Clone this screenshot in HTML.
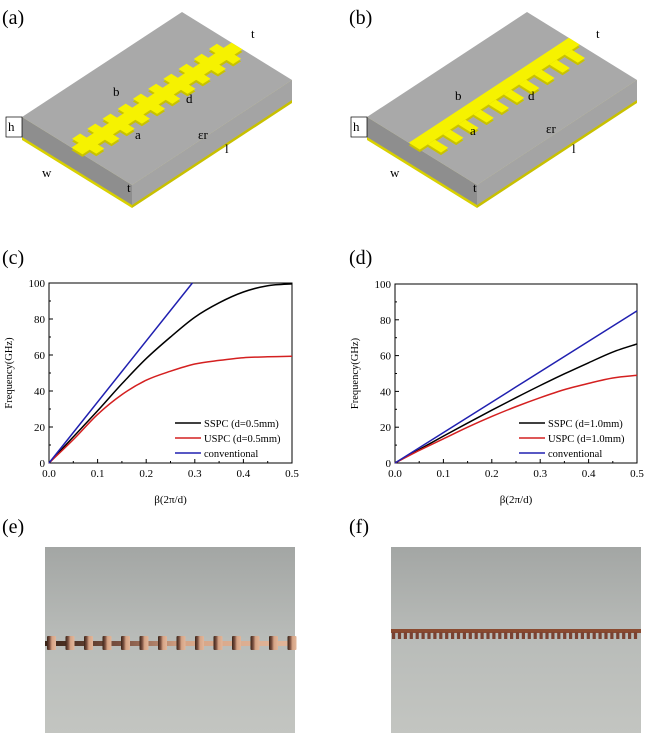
<!DOCTYPE html>
<html><head><meta charset="utf-8"><style>
html,body{margin:0;padding:0;background:#fff;width:658px;height:735px;overflow:hidden}
svg{display:block;font-family:"Liberation Serif",serif}
</style></head><body>
<svg id="fig" width="658" height="735" viewBox="0 0 658 735" xmlns="http://www.w3.org/2000/svg">
<defs>
<linearGradient id="ph" x1="0" y1="0" x2="0" y2="1"><stop offset="0" stop-color="#a3a6a4"/><stop offset="0.5" stop-color="#b9bcb9"/><stop offset="1" stop-color="#c3c5c1"/></linearGradient>
<linearGradient id="cu" x1="0" y1="0" x2="1" y2="0"><stop offset="0" stop-color="#3a2418"/><stop offset="0.3" stop-color="#7a5040"/><stop offset="0.55" stop-color="#d6a486"/><stop offset="1" stop-color="#e2b69a"/></linearGradient>
</defs>
<g font-size="20">
<text x="2" y="24">(a)</text>
<text x="349" y="24">(b)</text>
<text x="2" y="264">(c)</text>
<text x="349" y="264">(d)</text>
<text x="2" y="533">(e)</text>
<text x="349" y="533">(f)</text>
</g>
<g id="boxA"></g>
<g id="boxB"></g>
<g id="chartC"></g>
<g id="chartD"></g>
<g>
<rect x="45" y="547" width="250" height="186" fill="url(#ph)"/>
<g id="stripE"></g>
</g>
<g>
<rect x="391" y="547" width="250" height="186" fill="url(#ph)"/>
<rect x="391" y="629" width="250" height="4" fill="#8a4a30"/>
<g id="stripF"></g>
</g>
</svg>
<script>
// ---- chart data ----
const betaC = [0,0.05,0.1,0.15,0.2,0.25,0.3,0.35,0.4,0.45,0.5];
const sspcC = [0,14.5,29,44,58,70,81,89,95,98.5,99.5];
const uspcC = [0,13,27,38,46,51,55,57,58.5,59,59.3];
const convBetaC = [0,0.295];
const convC = [0,100];
const betaD = [0,0.05,0.1,0.15,0.2,0.25,0.3,0.35,0.4,0.45,0.5];
const sspcD = [0,7.5,15,22.3,29.5,36.5,43.3,49.8,56,62,66.5];
const uspcD = [0,7,13.5,20,26,31.5,36.5,41,44.5,47.5,49];
const convBetaD = [0,0.5];
const convD = [0,85];
const xTicks = ["0.0","0.1","0.2","0.3","0.4","0.5"];
const yTicks = ["0","20","40","60","80","100"];
const legendC = ["SSPC (d=0.5mm)","USPC (d=0.5mm)","conventional"];
const legendD = ["SSPC (d=1.0mm)","USPC (d=1.0mm)","conventional"];
const NS="http://www.w3.org/2000/svg";
function mk(tag,attrs,parent,txt){const e=document.createElementNS(NS,tag);for(const k in attrs)e.setAttribute(k,attrs[k]);if(txt!==undefined)e.textContent=txt;parent.appendChild(e);return e;}
function smooth(pts){let d="M"+pts[0][0]+","+pts[0][1];for(let i=0;i<pts.length-1;i++){const p0=pts[i-1]||pts[i],p1=pts[i],p2=pts[i+1],p3=pts[i+2]||p2;d+=" C"+(p1[0]+(p2[0]-p0[0])/6)+","+(p1[1]+(p2[1]-p0[1])/6)+" "+(p2[0]-(p3[0]-p1[0])/6)+","+(p2[1]-(p3[1]-p1[1])/6)+" "+p2[0]+","+p2[1];}return d;}
function chart(g,x0,x1,y0,y1,series,legend,legX){
  const sx=v=>x0+(x1-x0)*v/0.5, sy=v=>y1-(y1-y0)*v/100;
  let r=mk('rect',{x:x0,y:y0,width:x1-x0,height:y1-y0,fill:'none',stroke:'#000','stroke-width':1},g);
  
  
  xTicks.forEach((t,i)=>{const x=sx(parseFloat(t));mk('line',{x1:x,y1:y1,x2:x,y2:y1-4,stroke:'#000'},g);
    if(i<5)mk('line',{x1:sx(parseFloat(t)+0.05),y1:y1,x2:sx(parseFloat(t)+0.05),y2:y1-2,stroke:'#000'},g);
    const tx=mk('text',{x:x,y:y1+14,'font-size':11,'text-anchor':'middle'},g,t);
    
    });
  yTicks.forEach((t,i)=>{const y=sy(parseFloat(t));mk('line',{x1:x0,y1:y,x2:x0+4,y2:y,stroke:'#000'},g);
    if(i<5)mk('line',{x1:x0,y1:sy(parseFloat(t)+10),x2:x0+2,y2:sy(parseFloat(t)+10),stroke:'#000'},g);
    const tx=mk('text',{x:x0-4,y:y+4,'font-size':11,'text-anchor':'end'},g,t);
    
    });
  const yl=mk('text',{x:0,y:0,'font-size':10.5,'text-anchor':'middle',transform:`translate(${x0-37},${(y0+y1)/2}) rotate(-90)`},g,'Frequency(GHz)');
  
  
  const xl=mk('text',{x:(x0+x1)/2,y:y1+40,'font-size':11,'text-anchor':'middle'},g,'β(2π/d)');
  
  
  series.forEach((s,i)=>{const pts=s.b.map((b,j)=>[sx(b),sy(s.v[j])]);
    const p=mk('path',{d:smooth(pts),fill:'none',stroke:s.c,'stroke-width':1.5},g);
    
    
    const ly=y1-40+i*15;
    mk('line',{x1:legX,y1:ly,x2:legX+26,y2:ly,stroke:s.c,'stroke-width':1.5},g);
    const lt=mk('text',{x:legX+29,y:ly+4,'font-size':10.5},g,legend[i]);
    
    });
}
chart(document.getElementById('chartC'),49,292,283,463,[
 {b:betaC,v:sspcC,c:'#000',n:'sspc'},{b:betaC,v:uspcC,c:'#d42020',n:'uspc'},{b:convBetaC,v:convC,c:'#2020b0',n:'conventional'}],legendC,175);
chart(document.getElementById('chartD'),395,637,284,463,[
 {b:betaD,v:sspcD,c:'#000',n:'sspc'},{b:betaD,v:uspcD,c:'#d42020',n:'uspc'},{b:convBetaD,v:convD,c:'#2020b0',n:'conventional'}],legendD,519);

// ---- schematics ----
function box(g,ox,comb){
  const L=[22+ox,117],B=[182+ox,12],R=[292+ox,80],F=[132+ox,185],T=20;
  const P=p=>p.join(',');
  const dn=(p,d)=>[p[0],p[1]+d];
  mk('polygon',{points:[L,F,dn(F,T+3),dn(L,T+3)].map(P).join(' '),fill:'#d8d000'},g);
  mk('polygon',{points:[F,R,dn(R,T+3),dn(F,T+3)].map(P).join(' '),fill:'#c8c000'},g);
  mk('polygon',{points:[L,F,dn(F,T),dn(L,T)].map(P).join(' '),fill:'#8e8e8e'},g);
  mk('polygon',{points:[F,R,dn(R,T),dn(F,T)].map(P).join(' '),fill:'#a4a4a4'},g);
  mk('polygon',{points:[L,B,R,F].map(P).join(' '),fill:'#a9a9a9'},g);
  const U=[B[0]-L[0],B[1]-L[1]],V=[F[0]-L[0],F[1]-L[1]];
  const pt=(u,v)=>[L[0]+u*U[0]+v*V[0],L[1]+u*U[1]+v*V[1]];
  const poly=(u0,u1,v0,v1,c,dy)=>mk('polygon',{points:[pt(u0,v0),pt(u1,v0),pt(u1,v1),pt(u0,v1)].map(q=>q[0].toFixed(1)+','+(q[1]+(dy||0)).toFixed(1)).join(' '),fill:c},g);
  const shapes=[];
  if(!comb){
    shapes.push([0,1,0.45,0.55]);
    for(let i=0;i<10;i++){const u=0.045+i*0.095;shapes.push([u,u+0.05,0.39,0.61]);}
  } else {
    shapes.push([0,1,0.38,0.48]);
    for(let i=0;i<10;i++){const u=0.05+i*0.095;shapes.push([u,u+0.045,0.48,0.6]);}
  }
  shapes.forEach(s=>poly(s[0],s[1],s[2],s[3],'#c9c200',2.5));
  shapes.forEach(s=>poly(s[0],s[1],s[2],s[3],'#f6f200',0));
  const labs=comb?[['t',596,38],['b',455,100],['d',528,100],['a',470,135],['h',353,131],['εr',546,133],['l',572,153],['w',390,177],['t',473,192]]:
    [['t',251,38],['b',113,96],['d',186,103],['a',135,139],['h',8,131],['εr',198,139],['l',225,153],['w',42,177],['t',127,192]];
  labs.forEach(l=>{
    const t=mk('text',{x:l[1],y:l[2],'font-size':13},g,l[0]);
    
    });
  const hx=comb?351:6;
  mk('rect',{x:hx,y:117,width:16,height:20,fill:'none',stroke:'#000','stroke-width':0.7},g);
}
box(document.getElementById('boxA'),0,false);
box(document.getElementById('boxB'),345,true);

// photo strips
const se=document.getElementById('stripE');
mk('rect',{x:45,y:641,width:250,height:5,fill:'url(#cu)'},se);
for(let i=0;i<14;i++){const x=47+i*18.5;mk('rect',{x:x,y:636,width:9,height:14,fill:'url(#cu)',rx:1},se);}
const sf=document.getElementById('stripF');
for(let i=0;i<42;i++){mk('rect',{x:392+i*5.9,y:632,width:3.2,height:7,fill:'#7a4232'},sf);}
</script>
</body></html>
